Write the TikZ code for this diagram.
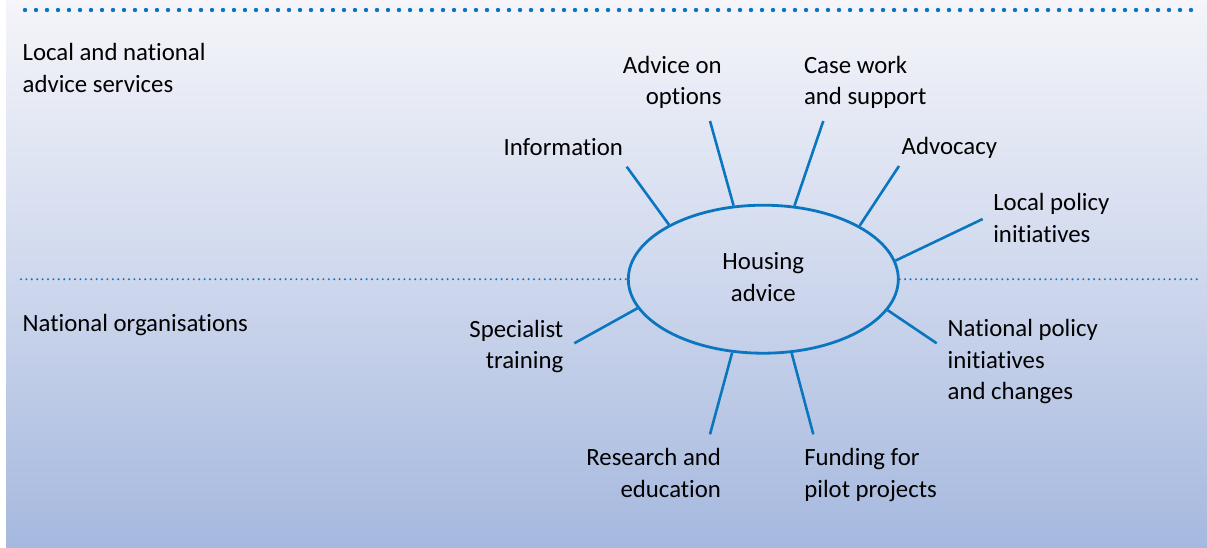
\documentclass[tikz,border=0pt]{standalone}
\usepackage{fontspec}
\setmainfont{Carlito}[Ligatures=NoCommon]
\usetikzlibrary{shapes.geometric}
\definecolor{lineblue}{RGB}{10,118,192}
\definecolor{bgtop}{RGB}{245,245,250}
\definecolor{bgmid}{RGB}{207,216,237}
\definecolor{bgbot}{RGB}{165,184,222}
\newcommand{\myL}[1]{\begin{tabular}[t]{@{}l@{}}#1\end{tabular}}
\newcommand{\myR}[1]{\begin{tabular}[t]{@{}r@{}}#1\end{tabular}}
\begin{document}
\begin{tikzpicture}[x=1pt,y=-1pt,
  lbl/.style={inner sep=0pt, outer sep=0pt, text=black, font=\fontsize{24.8}{31.3}\selectfont},
  lw/.style={lbl, anchor=base west},
  le/.style={lbl, anchor=base east},
  spoke/.style={draw=lineblue, line width=2.6pt},
  bigdots/.style={draw=lineblue, line width=4.4pt, line cap=round, dash pattern=on 0pt off 11pt},
  smalldots/.style={draw=lineblue, line width=2.2pt, line cap=round, dash pattern=on 0pt off 5.4pt},
  hub/.style={ellipse, draw=lineblue, line width=2.8pt, minimum width=270pt, minimum height=148pt, inner sep=0pt, font=\fontsize{24.8}{31.3}\selectfont, text=black}
]
\useasboundingbox (0,0) rectangle (1207,548);
% background
\shade[top color=bgtop, bottom color=bgbot, middle color=bgmid] (6,0) rectangle (1207,548);

% top dotted rule
\coordinate (tl) at (25,10);
\coordinate (tr) at (1200,10);
\draw[bigdots] (tl) -- (tr);

% hub
\node[hub] (h) at (763.3,279.2) {\begin{tabular}{@{}c@{}}Housing\\advice\end{tabular}};

% middle dotted rule
\coordinate (ml) at (21,279.2);
\coordinate (mr) at (1202,279.2);
\draw[smalldots] (ml) -- (h.west);
\draw[smalldots] (h.east) -- (mr);

% region labels
\node[lw] (lns) at (22.7,61) {\myL{Local and national\\advice services}};
\node[lw] (norg) at (22.7,331.7) {National organisations};

% spoke labels
\node[le] (info) at (623,156) {Information};
\node[le] (adv) at (721.7,73.7) {\myR{Advice on\\options}};
\node[lw] (case) at (804,73.7) {\myL{Case work\\and support}};
\node[lw] (advoc) at (901.7,155) {Advocacy};
\node[lw] (locp) at (993.3,211) {\myL{Local policy\\initiatives}};
\node[le] (spec) at (563.3,337.3) {\myR{Specialist\\training}};
\node[lw] (natp) at (947.7,336.7) {\myL{National policy\\initiatives\\and changes}};
\node[le] (res) at (721,465.7) {\myR{Research and\\education}};
\node[lw] (fund) at (804.3,465.7) {\myL{Funding for\\pilot projects}};

% spoke free ends
\coordinate (e-info) at (626.7,166.7);
\coordinate (e-adv) at (710,121);
\coordinate (e-case) at (823.3,121);
\coordinate (e-advoc) at (899,166);
\coordinate (e-locp) at (982.7,219);
\coordinate (e-spec) at (574.3,343.3);
\coordinate (e-res) at (710,434.3);
\coordinate (e-fund) at (813.3,434.3);
\coordinate (e-natp) at (936.7,343.3);

\draw[spoke] (h.150.3) -- (e-info);
\draw[spoke] (h.112.7) -- (e-adv);
\draw[spoke] (h.67.7) -- (e-case);
\draw[spoke] (h.29.2) -- (e-advoc);
\draw[spoke] (h.8.4) -- (e-locp);
\draw[spoke] (h.193.8) -- (e-spec);
\draw[spoke] (h.247.3) -- (e-res);
\draw[spoke] (h.291.9) -- (e-fund);
\draw[spoke] (h.346) -- (e-natp);
\end{tikzpicture}
\end{document}
